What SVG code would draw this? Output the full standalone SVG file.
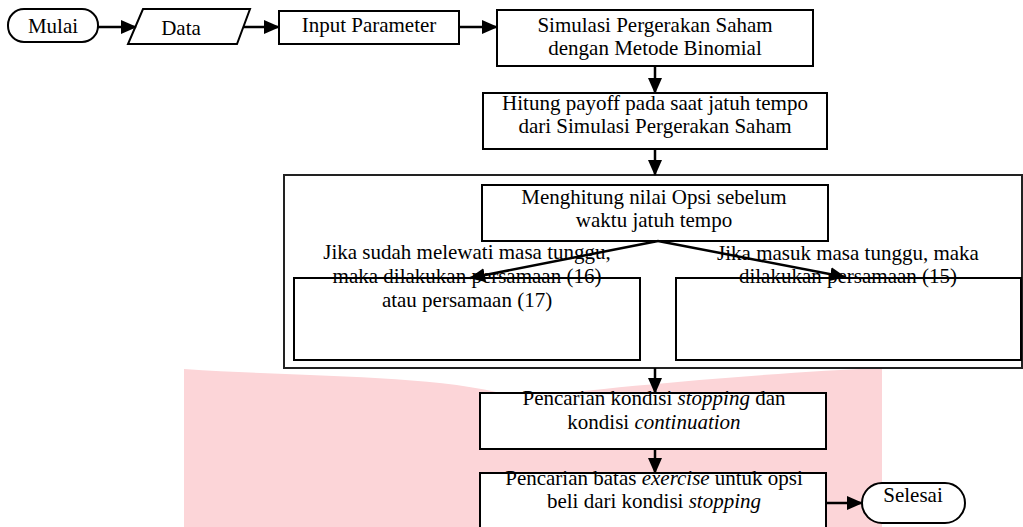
<svg xmlns="http://www.w3.org/2000/svg" width="1023" height="527" viewBox="0 0 1023 527">
<style>
.b{fill:#fff;stroke:#000;stroke-width:2}
.t{font-family:"Liberation Serif","Times New Roman",serif;font-size:21px;fill:#000;text-anchor:middle}
.i{font-style:italic}
.c{stroke:#000;stroke-width:2.5;fill:none;marker-end:url(#ah)}
</style>
<defs>
<marker id="ah" markerUnits="userSpaceOnUse" markerWidth="16" markerHeight="14" viewBox="0 0 16 14" refX="15" refY="7" orient="auto">
<path d="M0,0 L16,7 L0,14 Z" fill="#000"/>
</marker>
</defs>
<rect width="1023" height="527" fill="#fff"/>
<path id="watermark" d="M184,369 C320,378 440,374 520,398 C620,386 780,372 882,368 L882,527 L184,527 Z" fill="#fcd5d8"/>
<g id="mulai"><rect class="b" x="8" y="9" width="90" height="33" rx="16"/><text class="t" x="53" y="33">Mulai</text></g>
<g id="data"><polygon class="b" points="143,9 250,9 237,44 128,44"/><text class="t" x="181" y="35">Data</text></g>
<g id="input"><rect class="b" x="279" y="11" width="180" height="33"/><text class="t" x="369" y="32">Input Parameter</text></g>
<g id="simulasi"><rect class="b" x="497" y="10" width="316" height="56"/><text class="t" x="655" y="32">Simulasi Pergerakan Saham</text><text class="t" x="655" y="55">dengan Metode Binomial</text></g>
<g id="hitung"><rect class="b" x="483" y="93" width="344" height="56"/><text class="t" x="655" y="110">Hitung payoff pada saat jatuh tempo</text><text class="t" x="655" y="133">dari Simulasi Pergerakan Saham</text></g>
<g id="container"><rect x="284" y="175" width="738" height="193" fill="#fff" stroke="#222" stroke-width="2"/></g>
<g id="menghitung"><rect class="b" x="482" y="185" width="346" height="56"/><text class="t" x="654" y="204">Menghitung nilai Opsi sebelum</text><text class="t" x="654" y="227">waktu jatuh tempo</text></g>
<g id="kiri"><rect class="b" x="294" y="278" width="346" height="82"/></g>
<g id="kanan"><rect class="b" x="676" y="278" width="345" height="82"/></g>
<g id="pencarian1"><rect class="b" x="480" y="393" width="346" height="56"/><text class="t" x="654" y="405">Pencarian kondisi <tspan class="i">stopping</tspan> dan</text><text class="t" x="654" y="429">kondisi <tspan class="i">continuation</tspan></text></g>
<g id="pencarian2"><rect class="b" x="480" y="473" width="346" height="70"/><text class="t" x="654" y="485">Pencarian batas <tspan class="i">exercise</tspan><tspan dx="5">untuk opsi</tspan></text><text class="t" x="654" y="508">beli dari kondisi <tspan class="i">stopping</tspan></text></g>
<g id="selesai"><rect class="b" x="862" y="483" width="103" height="40" rx="20"/><text class="t" x="913" y="502">Selesai</text></g>
<g id="connectors">
<line class="c" x1="98" y1="27" x2="136" y2="27"/>
<line class="c" x1="244" y1="27" x2="279" y2="27"/>
<line class="c" x1="459" y1="27" x2="497" y2="27"/>
<line class="c" x1="655" y1="66" x2="655" y2="93"/>
<line class="c" x1="655" y1="149" x2="655" y2="175"/>
<line class="c" x1="658" y1="241" x2="470" y2="278"/>
<line class="c" x1="658" y1="241" x2="845" y2="277"/>
<line class="c" x1="655" y1="368" x2="655" y2="393"/>
<line class="c" x1="655" y1="449" x2="655" y2="473"/>
<line class="c" x1="826" y1="503" x2="862" y2="503"/>
</g>
<g id="labels">
<text class="t" x="467" y="259">Jika sudah melewati masa tunggu,</text>
<text class="t" x="467" y="283">maka dilakukan persamaan (16)</text>
<text class="t" x="467" y="307">atau persamaan (17)</text>
<text class="t" x="848" y="260">Jika masuk masa tunggu, maka</text>
<text class="t" x="848" y="283">dilakukan persamaan (15)</text>
</g>
</svg>
